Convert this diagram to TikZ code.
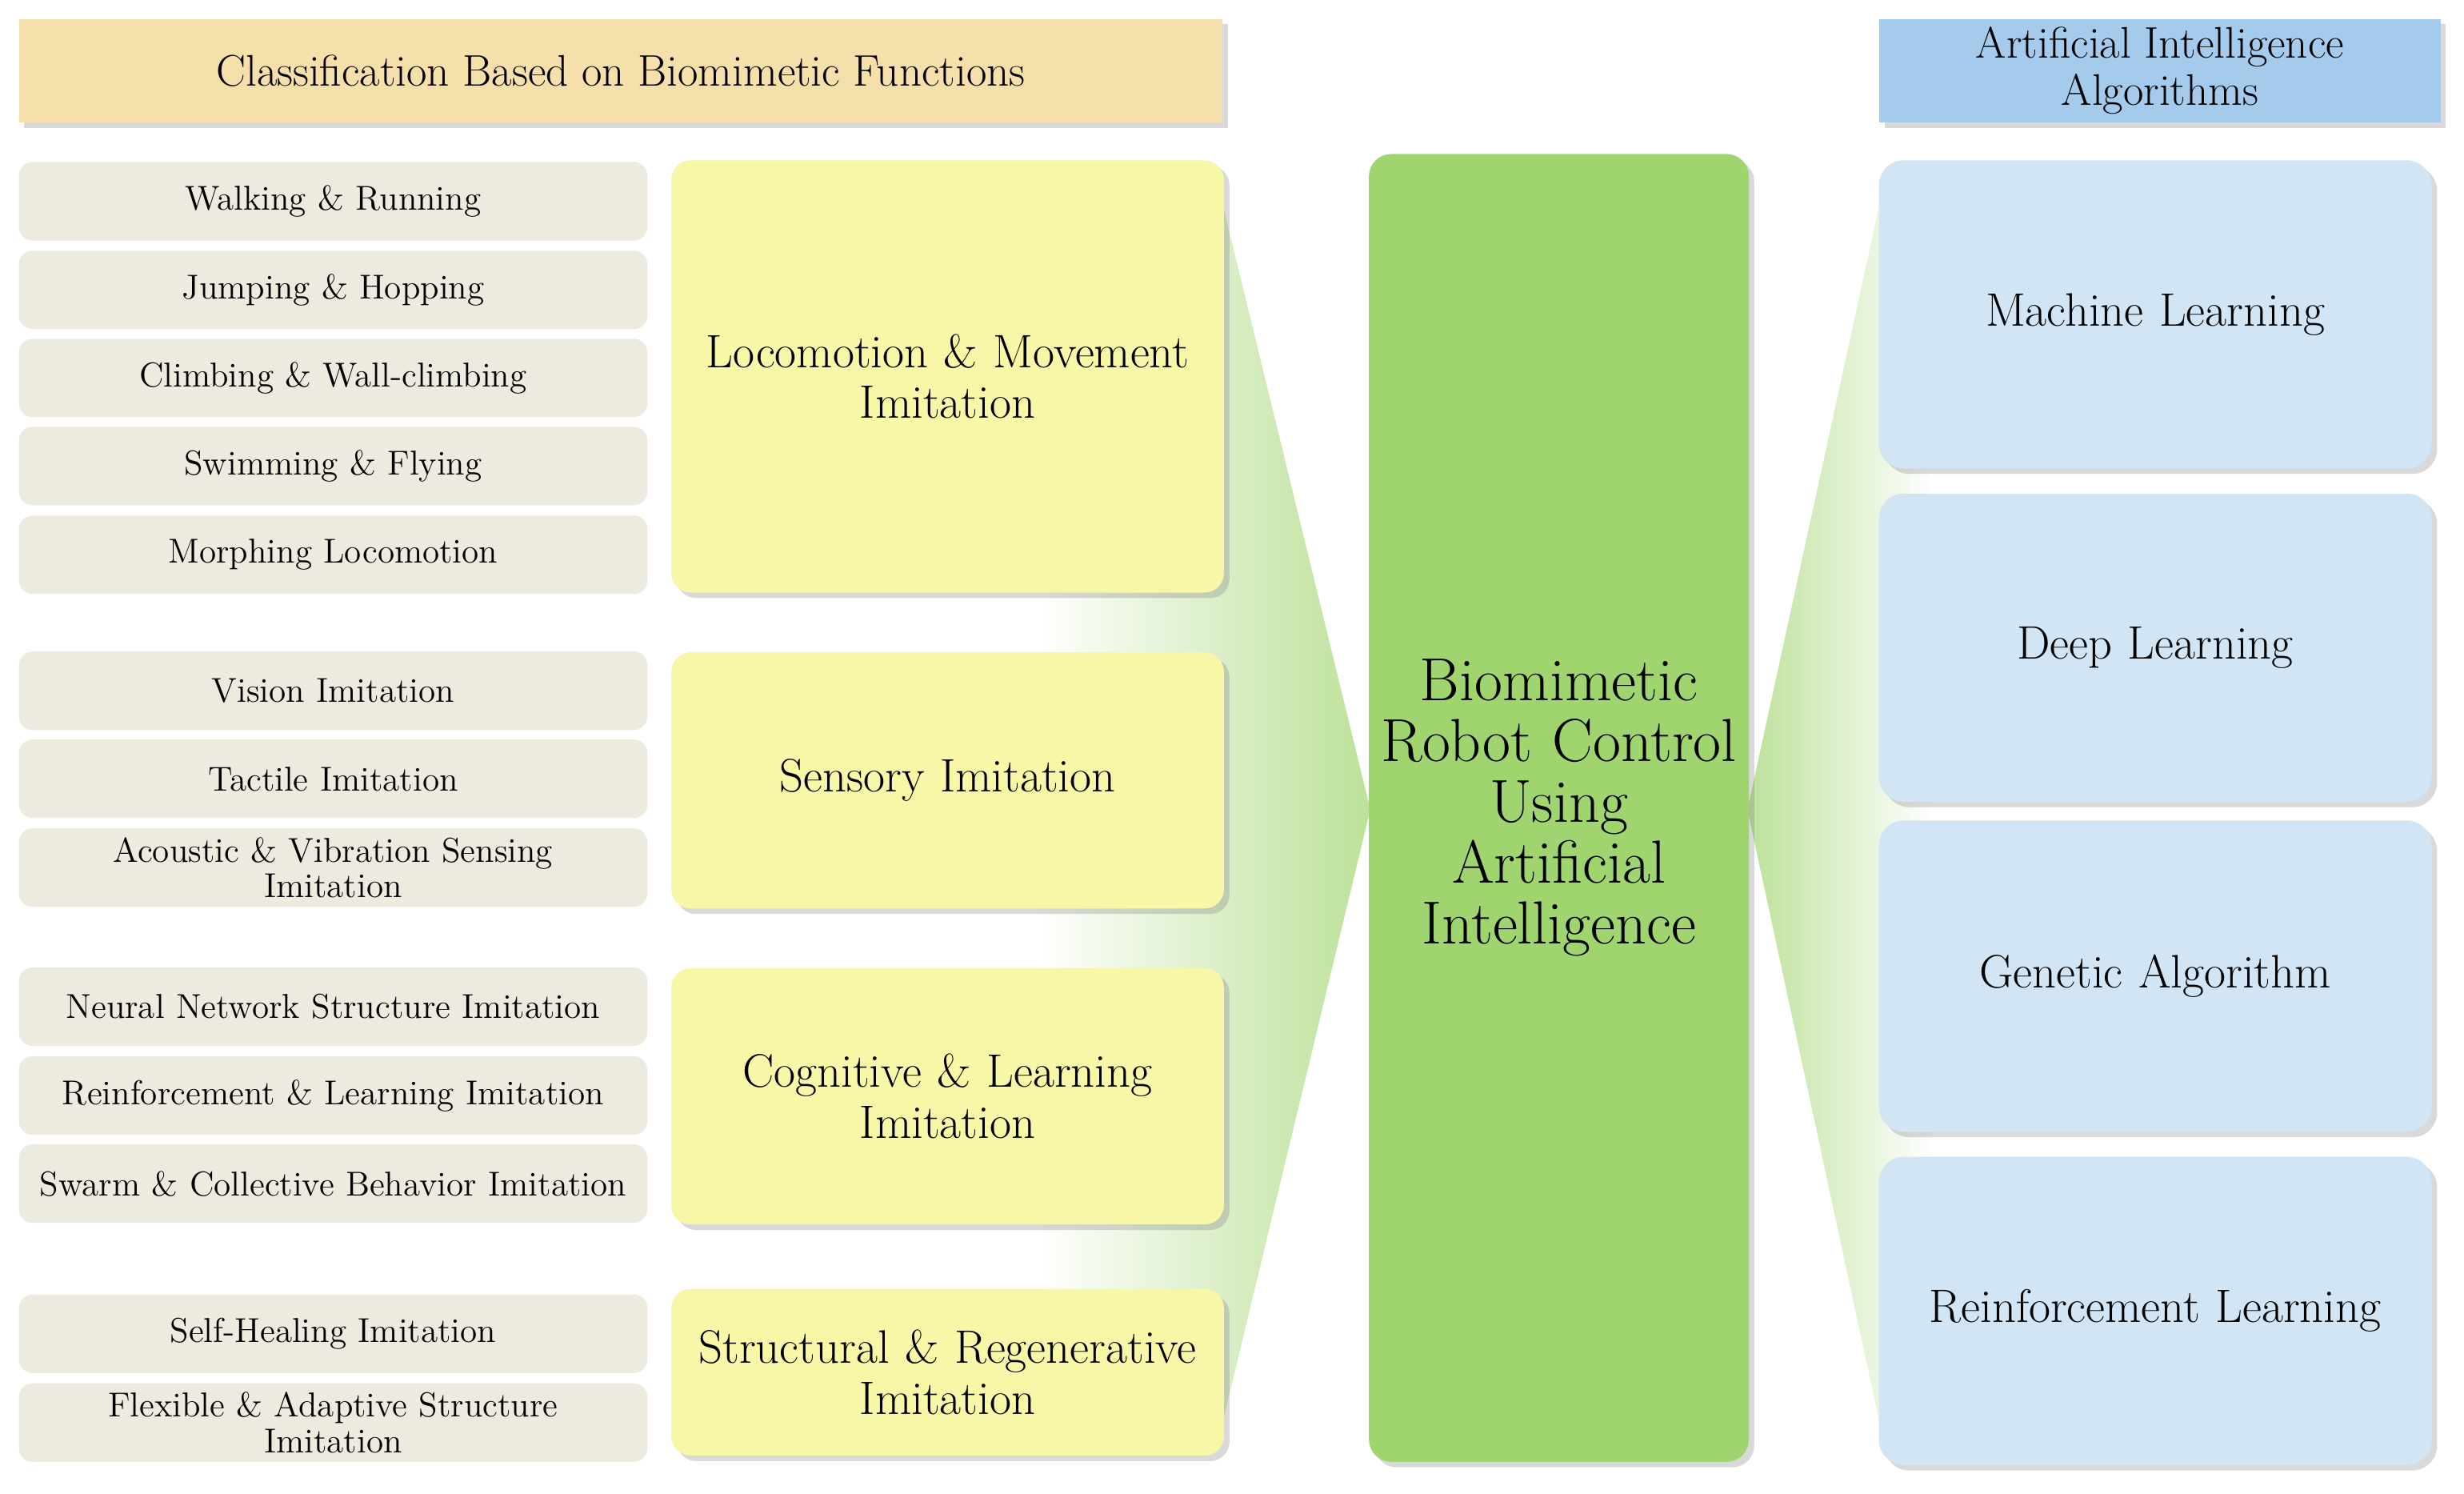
\documentclass[tikz,border=0pt]{standalone}
\usetikzlibrary{shadows}
\definecolor{hdrL}{HTML}{F5DFAA}
\definecolor{hdrR}{HTML}{A4CBEB}
\definecolor{subc}{HTML}{EDEAE0}
\definecolor{catc}{HTML}{F8F7A8}
\definecolor{cenc}{HTML}{A0D46E}
\definecolor{algc}{HTML}{D1E5F5}
\tikzset{
  shd/.style={drop shadow={shadow xshift=2pt,shadow yshift=-2pt,opacity=0.3}},
  hdr/.style={rectangle, shd, minimum height=1.32cm, align=center,
    font=\fontsize{16}{17}\selectfont, inner sep=2pt},
  sub/.style={rectangle, rounded corners=5pt, fill=subc, minimum width=8cm,
    minimum height=1.0cm, align=center, text width=7.8cm,
    font=\fontsize{12.5}{13}\selectfont, inner sep=1pt},
  cat/.style={rectangle, rounded corners=7pt, fill=catc, shd, minimum width=7cm,
    text width=6.8cm, align=center, font=\fontsize{17}{18.5}\selectfont},
  cen/.style={rectangle, rounded corners=8pt, fill=cenc, shd, minimum width=4.8cm,
    minimum height=16.64cm, text width=4.6cm, align=center,
    font=\fontsize{22}{22}\selectfont},
  alg/.style={rectangle, rounded corners=9pt, fill=algc, shd, minimum width=7.02cm,
    text width=6.8cm, align=center, font=\fontsize{17}{18.5}\selectfont},
}
\begin{document}
\begin{tikzpicture}
\useasboundingbox (0,0) rectangle (31.36,19.0);
% fans
\shade[left color=white, right color=cenc!70] (13.2,16.4) -- (15.56,16.4) -- (17.44,8.7) -- (15.56,0.9) -- (13.2,0.9) -- cycle;
\shade[left color=cenc!70, right color=white] (22.24,8.7) -- (23.92,16.4) -- (24.6,16.4) -- (24.6,0.9) -- (23.92,0.9) -- cycle;
% headers
\node[hdr, fill=hdrL, minimum width=15.32cm] (hl) at (7.90,18.10) {Classification Based on Biomimetic Functions};
\node[hdr, fill=hdrR, minimum width=7.14cm] (hr) at (27.49,18.10) {Artificial Intelligence\\Algorithms};
% sub-items
\node[sub] (s1) at (4.24,16.44) {Walking \& Running};
\node[sub] (s2) at (4.24,15.31) {Jumping \& Hopping};
\node[sub] (s3) at (4.24,14.19) {Climbing \& Wall-climbing};
\node[sub] (s4) at (4.24,13.07) {Swimming \& Flying};
\node[sub] (s5) at (4.24,11.94) {Morphing Locomotion};
\node[sub] (s6) at (4.24,10.21) {Vision Imitation};
\node[sub] (s7) at (4.24,9.09) {Tactile Imitation};
\node[sub] (s8) at (4.24,7.96) {Acoustic \& Vibration Sensing\\Imitation};
\node[sub] (s9) at (4.24,6.19) {Neural Network Structure Imitation};
\node[sub] (s10) at (4.24,5.06) {Reinforcement \& Learning Imitation};
\node[sub] (s11) at (4.24,3.94) {Swarm \& Collective Behavior Imitation};
\node[sub] (s12) at (4.24,2.03) {Self-Healing Imitation};
\node[sub] (s13) at (4.24,0.90) {Flexible \& Adaptive Structure\\Imitation};
% categories
\node[cat, minimum height=5.5cm] (c1) at (12.06,14.21) {Locomotion \& Movement\\Imitation};
\node[cat, minimum height=3.26cm] (c2) at (12.06,9.07) {Sensory Imitation};
\node[cat, minimum height=3.26cm] (c3) at (12.06,5.05) {Cognitive \& Learning\\Imitation};
\node[cat, minimum height=2.12cm] (c4) at (12.06,1.54) {Structural \& Regenerative\\Imitation};
% center
\node[cen] (ctr) at (19.84,8.72) {Biomimetic\\Robot Control\\Using\\Artificial\\Intelligence};
% algorithms
\node[alg, minimum height=3.92cm] (a1) at (27.43,15.0) {Machine Learning};
\node[alg, minimum height=3.92cm] (a2) at (27.43,10.76) {Deep Learning};
\node[alg, minimum height=3.96cm] (a3) at (27.43,6.58) {Genetic Algorithm};
\node[alg, minimum height=3.92cm] (a4) at (27.43,2.32) {Reinforcement Learning};
\end{tikzpicture}
\end{document}
